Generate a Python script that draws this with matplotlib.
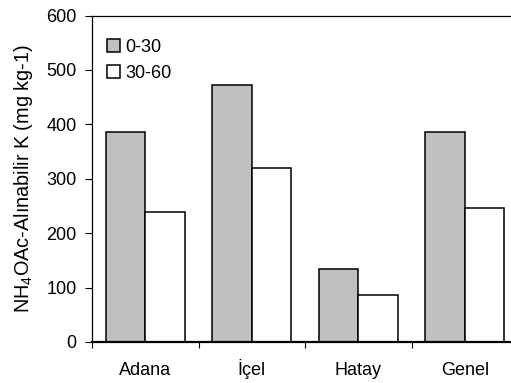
import matplotlib
matplotlib.use("Agg")
import matplotlib.pyplot as plt
import numpy as np

categories = ["Adana", "İçel", "Hatay", "Genel"]
depth_labels = ["0-30", "30-60"]
values_0_30 = [386, 473, 135, 385]
values_30_60 = [239, 319, 86, 247]
yticks = [0, 100, 200, 300, 400, 500, 600]

plt.rcParams['font.family'] = ['Liberation Sans', 'DejaVu Sans']
plt.rcParams['mathtext.default'] = 'regular'

fig = plt.figure(figsize=(5.11, 3.83), dpi=100)
ax = fig.add_axes([92/511, 1-342/383, 426/511, (342-15.5)/383])

x = np.arange(len(categories))
w = 0.372
ax.bar(x - w/2, values_0_30, w, color='#C0C0C0', edgecolor='black', linewidth=1.1, label=depth_labels[0], zorder=2)
ax.bar(x + w/2, values_30_60, w, color='white', edgecolor='black', linewidth=1.1, label=depth_labels[1], zorder=2)

ax.set_xlim(-0.5, len(categories) - 0.5)
ax.set_ylim(0, 600)
ax.set_yticks(yticks)
ax.set_xticks(np.arange(-0.5, len(categories) + 0.5, 1.0))
ax.set_xticklabels([])
ax.set_xticks(x, minor=True)
ax.set_xticklabels(categories, minor=True)
ax.tick_params(axis='x', which='major', direction='out', length=4, width=0.8)
ax.tick_params(axis='x', which='minor', length=0, pad=23.5, labelsize=13)
for lbl in ax.get_xticklabels(minor=True):
    lbl.set_verticalalignment('baseline')
ax.tick_params(axis='y', direction='out', length=5, width=0.8, pad=6, labelsize=13)

for s in ['left', 'top', 'right']:
    ax.spines[s].set_linewidth(0.9)
ax.spines['bottom'].set_linewidth(1.6)

ax.set_ylabel(r'NH$_4$OAc-Alınabilir K (mg kg-1)', fontsize=14.3, labelpad=8)

ax.legend(loc='upper left', bbox_to_anchor=(0.035, 0.928), frameon=False, fontsize=13,
          handlelength=0.75, handleheight=0.75, handletextpad=0.28, labelspacing=0.5,
          borderaxespad=0, borderpad=0)

fig.savefig('out.png', dpi=100)
